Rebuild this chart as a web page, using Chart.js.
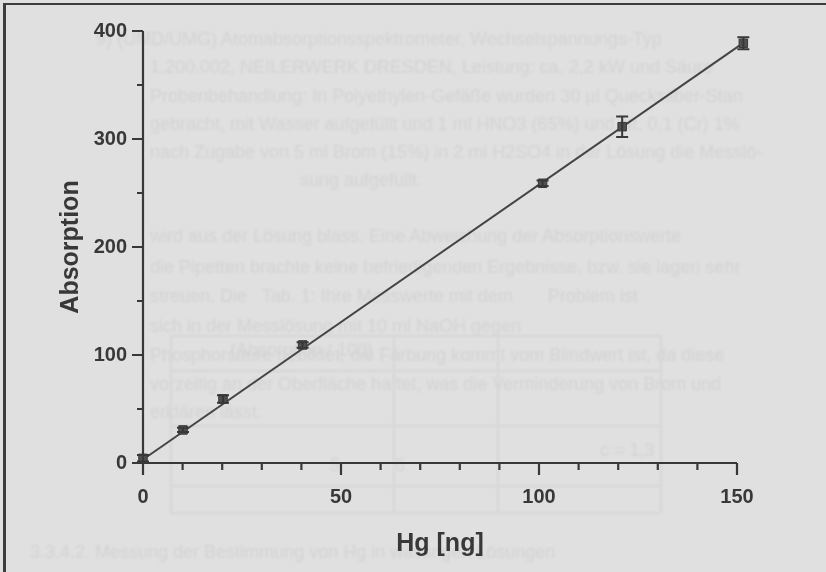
<!DOCTYPE html>
<html>
<head>
<meta charset="utf-8">
<title>Hg-Kalibrierung</title>
<script src="https://cdn.jsdelivr.net/npm/chart.js@4.4.1/dist/chart.umd.min.js"></script>
<style>
  html, body { margin: 0; padding: 0; background: #e0e0e0; }
  #page { position: relative; width: 826px; height: 572px; overflow: hidden; background: #e0e0e0; }
  /* faint print from the reverse side of the sheet */
  .bleed { position: absolute; left: 0; top: 0; width: 826px; height: 572px;
           font-family: 'Liberation Sans', Arial, sans-serif; font-size: 18px;
           color: #d3d3d3; filter: blur(1.1px); white-space: nowrap; }
  .bleed div { position: absolute; }
  .bleed .rule { background: #d6d6d6; }
  canvas { position: absolute; left: 0; top: 0; }
</style>
</head>
<body>
<div id="page">
  <div class="bleed">
    <div style="left:96px;top:29px">9) (UMD/UMG) Atomabsorptionsspektrometer, Wechselspannungs-Typ</div>
    <div style="left:150px;top:57px">1.200.002, NEILERWERK DRESDEN, Leistung: ca. 2,2 kW und Säure</div>
    <div style="left:150px;top:86px">Probenbehandlung: In Polyethylen-Gefäße wurden 30 µl Quecksilber-Stan</div>
    <div style="left:150px;top:114px">gebracht, mit Wasser aufgefüllt und 1 ml HNO3 (65%) und Nr. 0,1 (Cr) 1%</div>
    <div style="left:150px;top:142px">nach Zugabe von 5 ml Brom (15%) in 2 ml H2SO4 in der Lösung die Messlö-</div>
    <div style="left:300px;top:170px">sung aufgefüllt.</div>
    <div style="left:150px;top:226px">wird aus der Lösung blass. Eine Abweichung der Absorptionswerte</div>
    <div style="left:150px;top:257px">die Pipetten brachte keine befriedigenden Ergebnisse, bzw. sie lagen sehr</div>
    <div style="left:150px;top:286px">streuen. Die &nbsp; Tab. 1: Ihre Messwerte mit dem &nbsp; &nbsp; &nbsp; Problem ist</div>
    <div style="left:150px;top:316px">sich in der Messlösung mit 10 ml NaOH gegen</div>
    <div style="left:150px;top:345px">Phosphorsäure gebildet, die Färbung kommt vom Blindwert ist, da diese</div>
    <div style="left:150px;top:374px">vorzeitig an der Oberfläche haftet, was die Verminderung von Brom und</div>
    <div style="left:150px;top:402px">erklären lässt.</div>
    <div style="left:230px;top:340px">(Absorption / 100)</div>
    <div style="left:600px;top:440px">c = 1,3</div>
    <div style="left:330px;top:455px">5 &nbsp; &nbsp; &nbsp; &nbsp; &nbsp; 6</div>
    <div style="left:30px;top:542px">3.3.4.2. Messung der Bestimmung von Hg in wässrigen Lösungen</div>
    <div class="rule" style="left:170px;top:335px;width:490px;height:2px"></div>
    <div class="rule" style="left:170px;top:370px;width:490px;height:2px"></div>
    <div class="rule" style="left:170px;top:425px;width:490px;height:2px"></div>
    <div class="rule" style="left:170px;top:485px;width:490px;height:2px"></div>
    <div class="rule" style="left:170px;top:512px;width:490px;height:2px"></div>
    <div class="rule" style="left:170px;top:335px;width:2px;height:178px"></div>
    <div class="rule" style="left:393px;top:335px;width:2px;height:178px"></div>
    <div class="rule" style="left:497px;top:335px;width:2px;height:178px"></div>
    <div class="rule" style="left:660px;top:335px;width:2px;height:178px"></div>
  </div>
  <canvas id="chart" width="826" height="572"></canvas>
</div>
<script>
// Kalibrierung: Absorption gegen Hg-Masse
const hgNg = [0, 10.1, 20.2, 40.3, 100.9, 121, 151.6];
const absorption = [4.3, 30.6, 59.3, 109.3, 259, 311.4, 388.6];
const absorptionErr = [3, 2, 3.5, 2.5, 2.5, 9.5, 5.5];

// Regressionsgerade
const fitX = [0, 151.6];
const fitY = [3.2, 389];

const xMajor = 50, xMinor = 10, xMax = 150;
const yMajor = 100, yMinor = 50, yMax = 400;

const ink = '#383838';
const labelFont = { family: "'Liberation Sans', Arial, sans-serif", size: 20, weight: 'bold' };
const titleFont = { family: "'Liberation Sans', Arial, sans-serif", size: 25, weight: 'bold' };

// Seitenrand des gescannten Blattes
const pageFrame = {
  id: 'pageFrame',
  beforeDraw(chart) {
    const ctx = chart.ctx;
    ctx.save();
    ctx.fillStyle = '#3d3d3d';
    ctx.fillRect(3, 3, 3, 572);
    ctx.fillRect(3, 3, 823, 2);
    ctx.restore();
  }
};

// Achsen mit Haupt- und Nebenstrichen nach aussen
const axesLines = {
  id: 'axesLines',
  beforeDatasetsDraw(chart) {
    const { ctx, scales: { x, y } } = chart;
    const x0 = x.getPixelForValue(0);
    const y0 = y.getPixelForValue(0);
    ctx.save();
    ctx.strokeStyle = ink;
    ctx.lineWidth = 2.2;
    ctx.beginPath();
    ctx.moveTo(x0, y.getPixelForValue(yMax));
    ctx.lineTo(x0, y0);
    ctx.lineTo(x.getPixelForValue(xMax), y0);
    for (let v = 0; v <= xMax; v += xMinor) {
      const px = x.getPixelForValue(v);
      ctx.moveTo(px, y0);
      ctx.lineTo(px, y0 + (v % xMajor === 0 ? 12 : 7));
    }
    for (let v = 0; v <= yMax; v += yMinor) {
      const py = y.getPixelForValue(v);
      ctx.moveTo(x0, py);
      ctx.lineTo(x0 - (v % yMajor === 0 ? 11 : 6), py);
    }
    ctx.stroke();
    ctx.restore();
  }
};

// Fehlerbalken (Standardabweichung)
const errorBars = {
  id: 'errorBars',
  afterDatasetsDraw(chart) {
    const { ctx, scales: { x, y } } = chart;
    ctx.save();
    ctx.strokeStyle = ink;
    ctx.lineWidth = 2;
    ctx.beginPath();
    hgNg.forEach((h, i) => {
      const px = x.getPixelForValue(h);
      const top = y.getPixelForValue(absorption[i] + absorptionErr[i]);
      const bot = y.getPixelForValue(absorption[i] - absorptionErr[i]);
      ctx.moveTo(px, top); ctx.lineTo(px, bot);
      ctx.moveTo(px - 6, top); ctx.lineTo(px + 6, top);
      ctx.moveTo(px - 6, bot); ctx.lineTo(px + 6, bot);
    });
    ctx.stroke();
    ctx.restore();
  }
};

new Chart(document.getElementById('chart'), {
  type: 'scatter',
  data: {
    datasets: [
      {
        label: 'Messwerte',
        data: hgNg.map((h, i) => ({ x: h, y: absorption[i] })),
        pointStyle: 'rect',
        pointRadius: 6,
        backgroundColor: '#505050',
        borderColor: ink,
        borderWidth: 1,
        clip: false,
        order: 0
      },
      {
        type: 'line',
        label: 'Regression',
        data: fitX.map((h, i) => ({ x: h, y: fitY[i] })),
        borderColor: '#444',
        borderWidth: 2,
        pointRadius: 0,
        fill: false,
        clip: false,
        order: 1
      }
    ]
  },
  options: {
    responsive: false,
    animation: false,
    layout: { padding: { left: 0, right: 89, top: 31, bottom: 0 } },
    plugins: { legend: { display: false }, tooltip: { enabled: false } },
    scales: {
      x: {
        type: 'linear',
        min: 0,
        max: xMax,
        grid: { display: false, drawTicks: false },
        border: { display: false },
        ticks: { stepSize: xMajor, padding: 22, color: ink, font: labelFont },
        title: { display: true, text: 'Hg [ng]', color: ink, font: titleFont, padding: { top: 0, bottom: 13 } },
        afterFit(scale) { scale.height = 109; }
      },
      y: {
        min: 0,
        max: yMax,
        grid: { display: false, drawTicks: false },
        border: { display: false },
        ticks: { stepSize: yMajor, padding: 16, color: ink, font: labelFont },
        title: { display: true, text: 'Absorption', color: ink, font: titleFont, padding: { top: 56, bottom: 0 } },
        afterFit(scale) { scale.width = 143; }
      }
    }
  },
  plugins: [pageFrame, axesLines, errorBars]
});
</script>
</body>
</html>
